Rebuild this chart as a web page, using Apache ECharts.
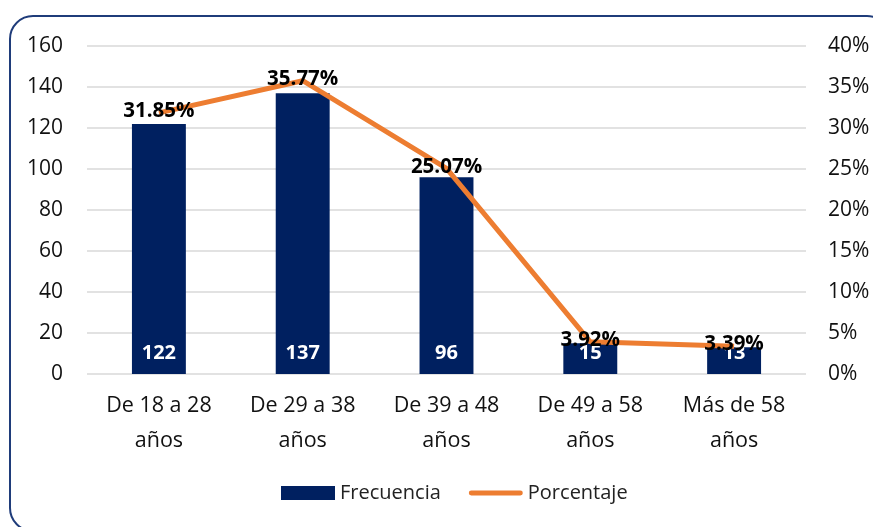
<!DOCTYPE html>
<html>
<head>
<meta charset="utf-8">
<script src="https://cdn.jsdelivr.net/npm/echarts@6/dist/echarts.min.js"></script>
<style>
  html, body { margin: 0; padding: 0; background: #fff; }
  #chart { width: 873px; height: 527px; }
</style>
</head>
<body>
<div id="chart"></div>
<script>
// datos del gráfico
const categorias = ['De 18 a 28\naños', 'De 29 a 38\naños', 'De 39 a 48\naños', 'De 49 a 58\naños', 'Más de 58\naños'];
const frecuencia = [122, 137, 96, 15, 13];
const porcentaje = [0.3185, 0.3577, 0.2507, 0.0392, 0.0339];

const fuente = '"Open Sans", "Noto Sans", sans-serif';
const navy = '#002060';
const naranja = '#ED7D31';

let chart = echarts.init(document.getElementById('chart'), null, { renderer: 'canvas' });

let option = {
  animation: false,
  textStyle: { fontFamily: fuente },
  graphic: [{
    type: 'rect',
    z: -1,
    shape: { x: 10, y: 16, width: 880, height: 515, r: 23 },
    style: { fill: 'none', stroke: '#1f3c7a', lineWidth: 2 }
  }],
  grid: { left: 87, right: 67, top: 46, bottom: 153 },
  legend: {
    bottom: 19,
    left: 276,
    itemGap: 28,
    itemWidth: 54,
    itemHeight: 14,
    textStyle: { fontSize: 20, color: '#222', fontFamily: fuente },
    data: [
      { name: 'Frecuencia', icon: 'rect' },
      { name: 'Porcentaje', icon: 'path://M2,0 L52,0 A2.5,2.5 0 0 1 52,5 L2,5 A2.5,2.5 0 0 1 2,0 Z' }
    ]
  },
  xAxis: {
    type: 'category',
    data: categorias,
    axisLine: { show: false },
    axisTick: { show: false },
    axisLabel: { fontSize: 21.5, color: '#111', lineHeight: 35, margin: 14, interval: 0 }
  },
  yAxis: [{
    type: 'value',
    min: 0, max: 160, interval: 20,
    axisLine: { show: false },
    axisTick: { show: false },
    axisLabel: { fontSize: 21, color: '#111', margin: 24 },
    splitLine: { lineStyle: { color: '#d9d9d9', width: 1.5 } }
  }, {
    type: 'value',
    min: 0, max: 0.4, interval: 0.05,
    axisLine: { show: false },
    axisTick: { show: false },
    axisLabel: {
      fontSize: 21, color: '#111', margin: 22,
      formatter: v => Math.round(v * 100) + '%'
    },
    splitLine: { show: false }
  }],
  series: [{
    name: 'Frecuencia',
    type: 'bar',
    data: frecuencia,
    barWidth: '37.5%',
    itemStyle: { color: navy },
    label: {
      show: true,
      position: 'insideBottom',
      distance: 11,
      color: '#fff',
      fontWeight: 'bold',
      fontSize: 20
    }
  }, {
    name: 'Porcentaje',
    type: 'line',
    yAxisIndex: 1,
    data: porcentaje,
    symbol: 'circle',
    symbolSize: 0.1,
    showSymbol: true,
    lineStyle: { color: naranja, width: 5 },
    itemStyle: { color: naranja },
    z: 3,
    label: {
      show: true,
      position: 'top',
      distance: -9,
      color: '#000',
      fontWeight: 'bold',
      fontSize: 20.5,
      formatter: p => (p.value * 100).toFixed(2) + '%'
    },
    labelLayout: { hideOverlap: false }
  }]
};

chart.setOption(option);
</script>
</body>
</html>
